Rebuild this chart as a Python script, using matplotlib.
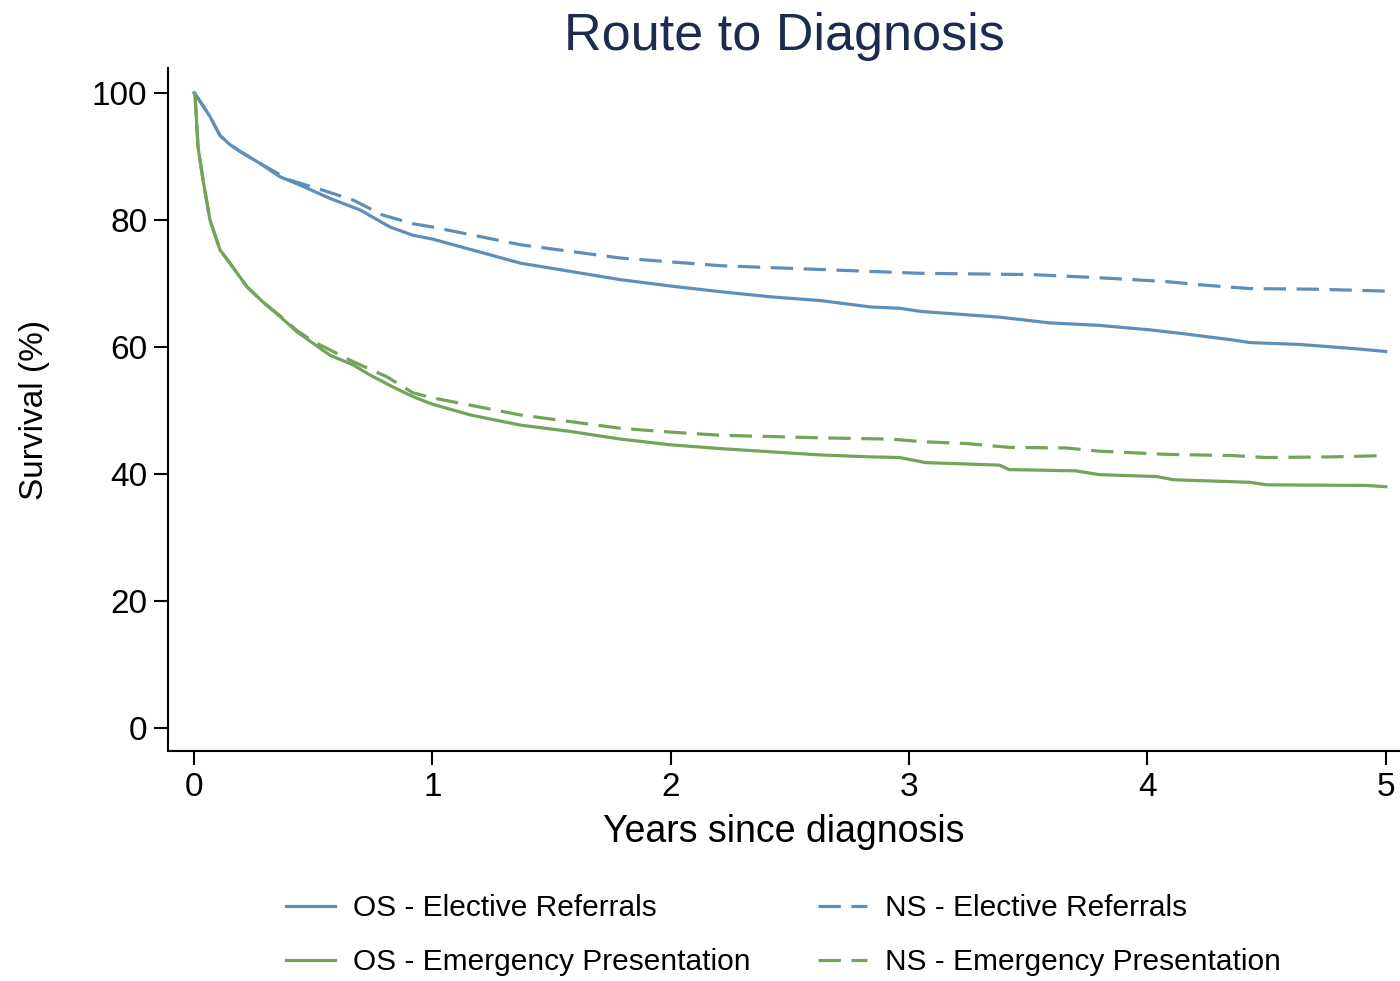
import numpy as np
import matplotlib
matplotlib.use("Agg")
import matplotlib.pyplot as plt

plt.rcParams['font.family'] = ['Liberation Sans', 'DejaVu Sans']

# overall survival - elective referrals
t_os_el = [0.0, 0.02, 0.067, 0.109, 0.15, 0.193, 0.277, 0.361, 0.445, 0.57, 0.696, 0.822, 0.918, 1.0,
           1.37, 1.79, 2.0, 2.21, 2.42, 2.63, 2.84, 2.96, 3.05, 3.38, 3.59, 3.80, 4.01, 4.15,
           4.36, 4.43, 4.64, 4.85, 5.0]
os_el = [100, 99.0, 96.3, 93.3, 91.9, 90.8, 88.9, 86.8, 85.5, 83.4, 81.6, 78.9, 77.6, 77.0,
         73.2, 70.6, 69.6, 68.7, 67.9, 67.3, 66.3, 66.1, 65.6, 64.7, 63.8, 63.4, 62.7, 62.1,
         61.1, 60.7, 60.4, 59.8, 59.3]

# net survival - elective referrals
t_ns_el = [0.0, 0.02, 0.067, 0.109, 0.15, 0.193, 0.277, 0.40, 0.54, 0.67, 0.79, 0.92, 1.0,
           1.37, 1.79, 2.0, 2.21, 2.63, 3.05, 3.52, 3.80, 4.08, 4.22, 4.43, 4.71, 5.0]
ns_el = [100, 99.0, 96.3, 93.3, 91.9, 90.8, 88.9, 86.3, 84.7, 83.1, 80.8, 79.4, 78.9,
         76.1, 74.0, 73.4, 72.8, 72.2, 71.6, 71.4, 70.9, 70.3, 69.8, 69.2, 69.1, 68.8]

# overall survival - emergency presentation
t_os_em = [0.004, 0.017, 0.038, 0.067, 0.109, 0.151, 0.222, 0.289, 0.361, 0.432, 0.499,
           0.571, 0.667, 0.738, 0.835, 0.918, 1.0, 1.16, 1.37, 1.58, 1.79, 2.0, 2.21, 2.42,
           2.63, 2.84, 2.96, 3.07, 3.38, 3.42, 3.70, 3.80, 4.04, 4.11, 4.43, 4.50, 4.92, 5.0]
os_em = [100, 91.5, 86.3, 80.0, 75.3, 73.2, 69.5, 67.1, 64.8, 62.4, 60.6,
         58.7, 57.2, 55.6, 53.7, 52.2, 51.0, 49.3, 47.7, 46.7, 45.5, 44.6, 44.0, 43.5,
         43.0, 42.7, 42.6, 41.8, 41.4, 40.7, 40.5, 39.9, 39.6, 39.1, 38.7, 38.3, 38.2, 38.0]

# net survival - emergency presentation
t_ns_em = [0.004, 0.017, 0.038, 0.067, 0.109, 0.151, 0.222, 0.289, 0.361, 0.432, 0.499,
           0.667, 0.81, 0.918, 1.0, 1.37, 1.79, 2.0, 2.21, 2.63, 2.91, 2.96, 3.05, 3.24,
           3.42, 3.66, 3.80, 4.08, 4.36, 4.50, 4.77, 5.0]
ns_em = [100, 91.5, 86.3, 80.0, 75.3, 73.2, 69.5, 67.1, 64.9, 62.6, 60.9,
         57.7, 55.3, 52.8, 52.0, 49.3, 47.2, 46.6, 46.1, 45.7, 45.5, 45.4, 45.1, 44.8,
         44.2, 44.1, 43.6, 43.1, 42.9, 42.6, 42.7, 42.9]

blue = '#5e8fbb'
green = '#74a35a'
dash = (7, 3.3)

fig = plt.figure(figsize=(14, 9.81), dpi=100)
ax = fig.add_axes([0.12, 0.2345, 0.88, 0.696])

ax.plot(t_os_el, os_el, color=blue, lw=2.3, label='OS - Elective Referrals')
ax.plot(t_ns_el, ns_el, color=blue, lw=2.3, dashes=dash, label='NS - Elective Referrals')
ax.plot(t_os_em, os_em, color=green, lw=2.3, label='OS - Emergency Presentation')
ax.plot(t_ns_em, ns_em, color=green, lw=2.3, dashes=dash, label='NS - Emergency Presentation')

ax.set_xlim(-0.109, 5.06)
ax.set_ylim(-3.6, 103.9)
ax.set_xticks([0, 1, 2, 3, 4, 5])
ax.set_yticks([0, 20, 40, 60, 80, 100])
ax.spines['top'].set_visible(False)
ax.spines['right'].set_visible(False)
ax.spines['left'].set_linewidth(1.5)
ax.spines['bottom'].set_linewidth(1.5)
ax.tick_params(axis='both', direction='out', length=10, width=1.5, labelsize=24, pad=5)

ax.set_xlabel('Years since diagnosis', fontsize=27)
ax.xaxis.label.set_va('center')
ax.xaxis.set_label_coords(0.5, -0.1186)
ax.set_ylabel('Survival (%)', fontsize=24)
ax.yaxis.label.set_va('center')
ax.yaxis.set_label_coords(-0.108, 0.5)
ax.set_title('Route to Diagnosis', fontsize=37.5, color='#1c2b4f', y=1.046, va='center', pad=0)

h, l = ax.get_legend_handles_labels()
order = [0, 2, 1, 3]
fig.legend([h[i] for i in order], [l[i] for i in order], loc='center',
           bbox_to_anchor=(0.5596, 0.0464), ncol=2, frameon=False, fontsize=21.5,
           handlelength=1.66, handletextpad=0.6, columnspacing=2.25, labelspacing=0.87)

fig.savefig('out.png', dpi=100, facecolor='white')
